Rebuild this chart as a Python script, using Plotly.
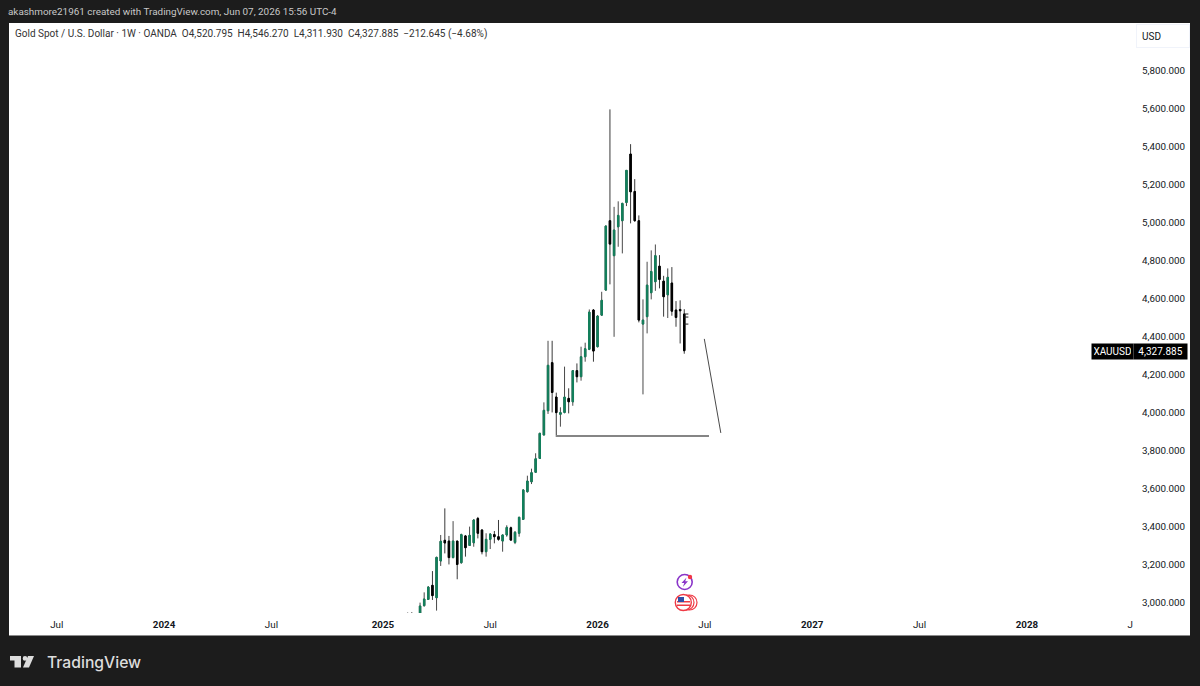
import plotly.graph_objects as go

# weekly bars, Monday dates
weeks = [
    '2025-02-17', '2025-02-24', '2025-03-03', '2025-03-10', '2025-03-17', '2025-03-24', '2025-03-31',
    '2025-04-07', '2025-04-14', '2025-04-21', '2025-04-28', '2025-05-05', '2025-05-12', '2025-05-19',
    '2025-05-26', '2025-06-02', '2025-06-09', '2025-06-16', '2025-06-23', '2025-06-30', '2025-07-07',
    '2025-07-14', '2025-07-21', '2025-07-28', '2025-08-04', '2025-08-11', '2025-08-18', '2025-08-25',
    '2025-09-01', '2025-09-08', '2025-09-15', '2025-09-22', '2025-09-29', '2025-10-06', '2025-10-13',
    '2025-10-20', '2025-10-27', '2025-11-03', '2025-11-10', '2025-11-17', '2025-11-24', '2025-12-01',
    '2025-12-08', '2025-12-15', '2025-12-22', '2025-12-29', '2026-01-05', '2026-01-12', '2026-01-19',
    '2026-01-26', '2026-02-02', '2026-02-09', '2026-02-16', '2026-02-23', '2026-03-02', '2026-03-09',
    '2026-03-16', '2026-03-23', '2026-03-30', '2026-04-06', '2026-04-13', '2026-04-20', '2026-04-27',
    '2026-05-04', '2026-05-11', '2026-05-18', '2026-05-25', '2026-06-01',
]
opens = [
    2890, 2920, 2900, 2935, 2986, 3019, 3093, 3028, 3221, 3330, 3326, 3239, 3326, 3212, 3353, 3303, 3317,
    3445, 3384, 3270, 3335, 3360, 3349, 3326, 3358, 3396, 3319, 3367, 3440, 3586, 3638, 3688, 3761, 3884,
    4012, 4265, 4084, 3993, 4003, 4077, 4059, 4223, 4191, 4296, 4335, 4542, 4349, 4515, 4647, 5012, 4828,
    4980, 5012, 5108, 5363, 5166, 5012, 4468, 4507, 4633, 4691, 4773, 4694, 4622, 4684, 4542, 4545, 4520.795,
]
highs = [
    2950, 2952, 2935, 3002, 3056, 3089, 3168, 3244, 3358, 3498, 3353, 3431, 3326, 3365, 3358, 3402, 3440,
    3453, 3389, 3367, 3367, 3379, 3437, 3361, 3409, 3402, 3379, 3454, 3598, 3670, 3707, 3788, 3896, 4056,
    4380, 4380, 4107, 4030, 4244, 4130, 4226, 4261, 4349, 4370, 4545, 4547, 4515, 4638, 4987, 5598, 5085,
    5114, 5107, 5278, 5415, 5231, 5040, 4598, 4796, 4856, 4887, 4831, 4722, 4761, 4768, 4589, 4593, 4546.270,
]
lows = [
    2870, 2880, 2870, 2930, 2981, 3016, 3016, 2960, 3195, 3261, 3203, 3235, 3125, 3207, 3244, 3300, 3296,
    3340, 3256, 3244, 3284, 3314, 3328, 3270, 3349, 3328, 3310, 3349, 3437, 3581, 3626, 3686, 3758, 3884,
    3995, 4003, 3884, 3928, 3998, 3998, 4038, 4161, 4170, 4270, 4331, 4270, 4345, 4512, 4643, 4677, 4401,
    4875, 4840, 5089, 4998, 5007, 4477, 4098, 4419, 4598, 4643, 4656, 4507, 4500, 4512, 4454, 4366, 4311.930,
]
closes = [
    2920, 2930, 2925, 2984, 3021, 3084, 3039, 3240, 3325, 3316, 3239, 3326, 3203, 3360, 3291, 3356, 3437,
    3367, 3270, 3335, 3363, 3349, 3335, 3358, 3398, 3331, 3372, 3451, 3595, 3642, 3686, 3759, 3893, 4014,
    4251, 4108, 4002, 4002, 4084, 4059, 4223, 4191, 4296, 4338, 4531, 4326, 4510, 4593, 4984, 4889, 4963,
    5040, 5103, 5277, 5164, 5012, 4489, 4489, 4673, 4745, 4828, 4703, 4612, 4714, 4536, 4503, 4538, 4327.885,
]

# drawings on the chart
level_dates = ['2025-10-26', '2026-07-13']
level_prices = [3879, 3879]
slope_dates = ['2026-07-05', '2026-08-02']
slope_prices = [4390, 3895]
mark_dates = ['2026-06-01', '2026-06-08', None, '2026-06-01', '2026-06-08', None, '2026-06-01', '2026-06-08']
mark_prices = [4521, 4521, None, 4505, 4505, None, 4468, 4468]

time_ticks = ['2023-07-03', '2024-01-01', '2024-07-01', '2025-01-06', '2025-07-07', '2026-01-05',
              '2026-07-06', '2027-01-04', '2027-07-05', '2028-01-03', '2028-06-26']
time_labels = ['Jul', '<b>2024</b>', 'Jul', '<b>2025</b>', 'Jul', '<b>2026</b>',
               'Jul', '<b>2027</b>', 'Jul', '<b>2028</b>', 'J']
price_ticks = [3000, 3200, 3400, 3600, 3800, 4000, 4200, 4400, 4600, 4800, 5000, 5200, 5400, 5600, 5800]

header = 'akashmore21961 created with TradingView.com, Jun 07, 2026 15:56 UTC-4'
legend = ('Gold Spot / U.S. Dollar · 1W · OANDA  O4,520.795  H4,546.270  L4,311.930  '
          'C4,327.885  −212.645 (−4.68%)')

GREEN = '#12805c'
FONT = 'Roboto'
L, R, T, B = 9, 1136, 23, 613


def px(x):
    return (x - L) / (R - L)


def py(y):
    return (B - y) / (B - T)


def poly(points):
    return 'M ' + ' L '.join(f'{px(x)} {py(y)}' for x, y in points) + ' Z'


def circle(cx, cy, r, **kw):
    return dict(type='circle', xref='paper', yref='paper', x0=px(cx - r), x1=px(cx + r),
                y0=py(cy + r), y1=py(cy - r), **kw)


def rect(x0, y0, x1, y1, color, layer='above'):
    return dict(type='rect', xref='paper', yref='paper', x0=px(x0), x1=px(x1), y0=py(y1), y1=py(y0),
                fillcolor=color, line_width=0, layer=layer)


fig = go.Figure()

# wicks first, then the bodies on top so they can have a different colour
fig.add_trace(go.Candlestick(
    x=weeks, open=opens, high=highs, low=lows, close=closes,
    increasing=dict(line=dict(color='#4a4a4a', width=1), fillcolor='#4a4a4a'),
    decreasing=dict(line=dict(color='#3a3a3a', width=1), fillcolor='#3a3a3a'),
    hoverinfo='skip',
))
fig.add_trace(go.Candlestick(
    x=weeks, open=opens, close=closes,
    high=[max(o, c) for o, c in zip(opens, closes)],
    low=[min(o, c) for o, c in zip(opens, closes)],
    increasing=dict(line=dict(color=GREEN, width=1), fillcolor=GREEN),
    decreasing=dict(line=dict(color='#000000', width=1), fillcolor='#000000'),
    hoverinfo='skip',
))
fig.add_trace(go.Scatter(x=level_dates, y=level_prices, mode='lines', line=dict(color='#5c5c5c', width=1.4)))
fig.add_trace(go.Scatter(x=slope_dates, y=slope_prices, mode='lines', line=dict(color='#4a4a4a', width=1)))
fig.add_trace(go.Scatter(x=mark_dates, y=mark_prices, mode='lines', line=dict(color='#222222', width=1)))

shapes = [
    rect(9, 23, 1190, 636, '#ffffff', layer='below'),
    rect(9, 635, 1190, 636, '#8a8a8a', layer='below'),
    # purple event icon
    circle(684.7, 582, 7.5, line=dict(color='#8a35c9', width=1.6), fillcolor='#ffffff'),
    circle(690, 577, 2.2, line_width=0, fillcolor='#f23645'),
    dict(type='path', xref='paper', yref='paper', fillcolor='#8a35c9', line_width=0,
         path=poly([(686.5, 577.5), (681.5, 583), (684.3, 583), (682.8, 587), (688, 581.2), (685.2, 581.2)])),
    # US flag event icon
    circle(689.5, 602.5, 7.5, line=dict(color='#ef3a45', width=1.2), fillcolor='#ffffff'),
    circle(686.5, 602.5, 7.5, line=dict(color='#ef3a45', width=1.2), fillcolor='#ffffff'),
    circle(683.3, 602.5, 8, line=dict(color='#ef3a45', width=1.4), fillcolor='#ffffff'),
    rect(677, 601, 690, 602.5, '#ef3a45'),
    rect(677, 604.5, 690, 606, '#ef3a45'),
    rect(678, 597, 684, 602, '#2f4fa8'),
    # TradingView logo
    dict(type='path', xref='paper', yref='paper', fillcolor='#dddddd', line_width=0,
         path=poly([(10, 656), (21, 656), (21, 667.5), (14.5, 667.5), (14.5, 660.5), (10, 660.5)])),
    circle(25, 658.4, 2.3, line_width=0, fillcolor='#dddddd'),
    dict(type='path', xref='paper', yref='paper', fillcolor='#dddddd', line_width=0,
         path=poly([(28, 656), (34, 656), (29, 667.5), (23, 667.5)])),
]

annotations = [
    dict(text=header, x=px(6), y=py(12), font=dict(size=9.9, color='#c8c8c8')),
    dict(text=legend, x=px(13), y=py(34.5), font=dict(size=10, color='#333333')),
    dict(text='TradingView', x=px(45), y=py(662), font=dict(size=15.7, color='#dddddd', family='Inter', weight=500)),
    dict(text='USD', x=px(1136), y=py(36), font=dict(size=10, color='#131722'), align='left',
         bgcolor='#ffffff', bordercolor='#f0f3fa', borderwidth=1, borderpad=5, width=42, height=12),
    dict(text='XAUUSD', x=px(1091), y=py(351), font=dict(size=10, color='#ffffff'), align='center',
         bgcolor='#000000', borderpad=2, width=37),
    dict(text='4,327.885', x=px(1133), y=py(351), font=dict(size=10, color='#ffffff'), align='center',
         bgcolor='#000000', borderpad=2, width=49),
]
for a in annotations:
    a.update(xref='paper', yref='paper', xanchor='left', yanchor='middle', showarrow=False)

fig.update_layout(
    width=1200, height=686, autosize=False,
    margin=dict(l=L, r=1200 - R, t=T, b=686 - B, pad=0),
    paper_bgcolor='#1c1c1c', plot_bgcolor='rgba(0,0,0,0)',
    showlegend=False, shapes=shapes, annotations=annotations,
    boxgap=0.5,
    font=dict(family=FONT, size=9.8, color='#131722'),
    xaxis=dict(range=['2023-04-13', '2028-07-06'], tickmode='array', tickvals=time_ticks, ticktext=time_labels,
               showgrid=False, zeroline=False, showline=False, ticks='', rangeslider=dict(visible=False),
               tickangle=0, ticklabelstandoff=4),
    yaxis=dict(range=[2947.4, 6052.6], side='right', tickmode='array', tickvals=price_ticks,
               ticktext=[f'{p:,}.000' for p in price_ticks], showgrid=False, zeroline=False, showline=False,
               ticks='', ticklabelstandoff=5),
)

# page margin would push the figure off the window
fig.write_html("out.html", config=dict(displayModeBar=False),
               post_script="document.body.style.margin='0';document.body.style.overflow='hidden';")
